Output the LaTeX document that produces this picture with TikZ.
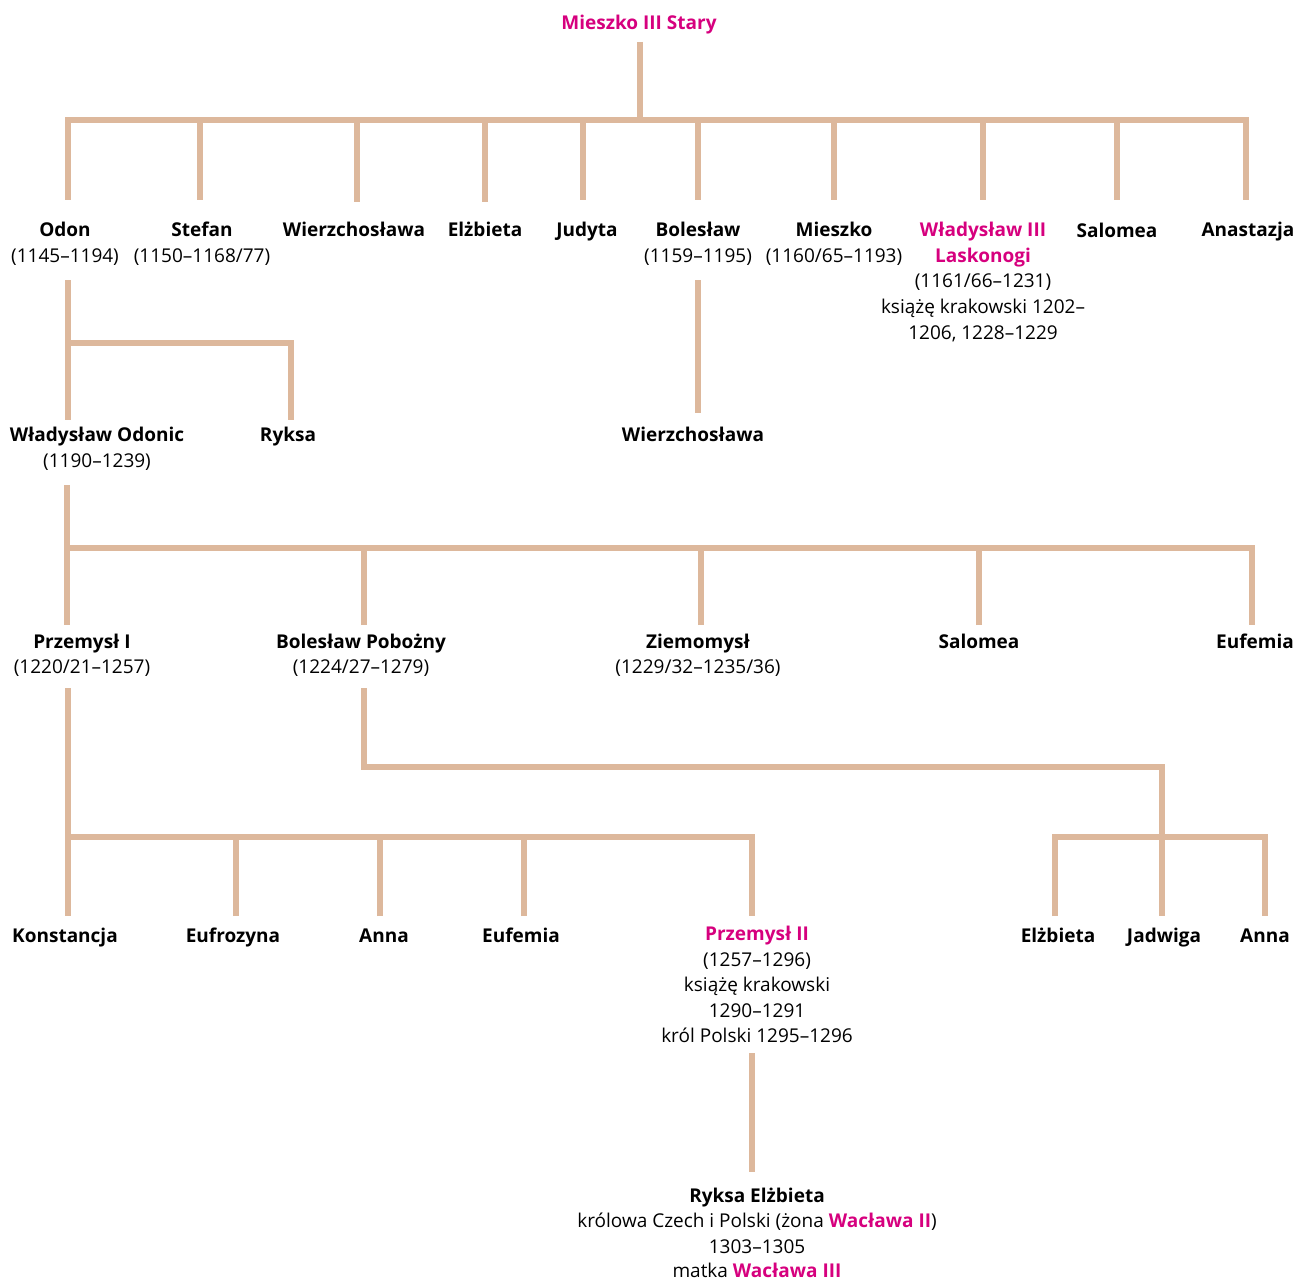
\documentclass[tikz,border=0pt]{standalone}
\usepackage{fontspec}
\setmainfont{Open Sans}
\definecolor{mag}{HTML}{D6007E}
\definecolor{tanline}{HTML}{DDB89C}
\newcommand\nmfont{\fontsize{19}{23}\selectfont\bfseries}
\newcommand\txfont{\fontsize{19}{23}\selectfont}
\newcommand\hi[1]{\textcolor{mag}{\bfseries #1}}
\tikzset{
  link/.style={draw=tanline, line width=6.5pt},
  nm/.style={font=\nmfont, anchor=base, inner sep=0pt},
  hl/.style={nm, text=mag},
  tx/.style={font=\txfont, anchor=base, inner sep=0pt},
}
\begin{document}
\begin{tikzpicture}[x=1pt,y=-1pt]
\useasboundingbox (0,0) rectangle (1297,1281);

% ---------- generation 0
\node[hl] (m3) at (639,29.5) {Mieszko III Stary};
\coordinate (m3-out) at (640,42);
\coordinate (m3-bar) at (640,120);

% ---------- generation 1
\node[nm] (odon) at (65,236.5) {Odon};
\node[tx] (odon-d) at (65,262.5) {(1145–1194)};
\node[nm] (stefan) at (202,236.5) {Stefan};
\node[tx] (stefan-d) at (202,262.5) {(1150–1168/77)};
\node[nm] (wierz1) at (354,236.5) {Wierzchosława};
\node[nm] (elz1) at (485,236.5) {Elżbieta};
\node[nm] (judyta) at (587,236.5) {Judyta};
\node[nm] (bol1) at (698,236.5) {Bolesław};
\node[tx] (bol1-d) at (698,262.5) {(1159–1195)};
\node[nm] (mieszko) at (834,236.5) {Mieszko};
\node[tx] (mieszko-d) at (834,262.5) {(1160/65–1193)};
\node[hl] (wl3) at (983,236.5) {Władysław III};
\node[hl] (wl3-b) at (983,262.5) {Laskonogi};
\node[tx] (wl3-d) at (983,287.5) {(1161/66–1231)};
\node[tx] (wl3-e) at (983,313.5) {książę krakowski 1202–};
\node[tx] (wl3-f) at (983,339.5) {1206, 1228–1229};
\node[nm] (salomea1) at (1117,237.5) {Salomea};
\node[nm] (anast) at (1248,236.5) {Anastazja};

\coordinate (odon-in) at (68,200);
\coordinate (stefan-in) at (200,200);
\coordinate (wierz1-in) at (357,202);
\coordinate (elz1-in) at (485,202);
\coordinate (judyta-in) at (583,200);
\coordinate (bol1-in) at (698,200);
\coordinate (mieszko-in) at (834,200);
\coordinate (wl3-in) at (983,200);
\coordinate (salomea1-in) at (1117,200);
\coordinate (anast-in) at (1246,200);

\draw[link] (m3-out) -- (m3-bar);
\draw[link] (odon-in) |- (m3-bar) -| (anast-in);
\foreach \c in {stefan,wierz1,elz1,judyta,bol1,mieszko,wl3,salomea1}
  \draw[link] (\c-in) -- (\c-in |- m3-bar);

% ---------- generation 2
\coordinate (odon-out) at (68,280);
\coordinate (odon-bar) at (68,343);
\coordinate (odonic-in) at (68,420);
\coordinate (ryksa-in) at (291,420);
\node[nm] (odonic) at (97,441.5) {Władysław Odonic};
\node[tx] (odonic-d) at (97,467.5) {(1190–1239)};
\node[nm] (ryksa) at (288,441.5) {Ryksa};
\draw[link] (odon-out) -- (odonic-in);
\draw[link] (odon-bar) -| (ryksa-in);

\coordinate (bol1-out) at (698,280);
\coordinate (wierz2-in) at (698,413);
\node[nm] (wierz2) at (693,441.5) {Wierzchosława};
\draw[link] (bol1-out) -- (wierz2-in);

% ---------- generation 3
\coordinate (odonic-out) at (67,485);
\coordinate (odonic-bar) at (67,548);
\coordinate (prz1-in) at (67,625);
\coordinate (bolpob-in) at (364,625);
\coordinate (ziem-in) at (701,625);
\coordinate (salomea2-in) at (979,625);
\coordinate (eufem1-in) at (1252,625);
\node[nm] (prz1) at (82,648.5) {Przemysł I};
\node[tx] (prz1-d) at (82,673.5) {(1220/21–1257)};
\node[nm] (bolpob) at (361,648.5) {Bolesław Pobożny};
\node[tx] (bolpob-d) at (361,673.5) {(1224/27–1279)};
\node[nm] (ziem) at (698,648.5) {Ziemomysł};
\node[tx] (ziem-d) at (698,673.5) {(1229/32–1235/36)};
\node[nm] (salomea2) at (979,648.5) {Salomea};
\node[nm] (eufem1) at (1255,648.5) {Eufemia};
\draw[link] (odonic-out) -- (prz1-in);
\draw[link] (odonic-bar) -| (eufem1-in);
\foreach \c in {bolpob,ziem,salomea2}
  \draw[link] (\c-in) -- (\c-in |- odonic-bar);

% ---------- generation 4 (children of Przemysł I)
\coordinate (prz1-out) at (68,688);
\coordinate (prz1-bar) at (68,837);
\coordinate (konst-in) at (68,916);
\coordinate (eufroz-in) at (236,916);
\coordinate (anna1-in) at (380,916);
\coordinate (eufem2-in) at (524,916);
\coordinate (prz2-in) at (752,916);
\node[nm] (konst) at (65,942.5) {Konstancja};
\node[nm] (eufroz) at (233,942.5) {Eufrozyna};
\node[nm] (anna1) at (384,942.5) {Anna};
\node[nm] (eufem2) at (521,942.5) {Eufemia};
\node[hl] (prz2) at (757,940.5) {Przemysł II};
\node[tx] (prz2-d) at (757,966.5) {(1257–1296)};
\node[tx] (prz2-e) at (757,991.5) {książę krakowski};
\node[tx] (prz2-f) at (757,1017.5) {1290–1291};
\node[tx] (prz2-g) at (757,1042.5) {król Polski 1295–1296};
\draw[link] (prz1-out) -- (konst-in);
\draw[link] (prz1-bar) -| (prz2-in);
\foreach \c in {eufroz,anna1,eufem2}
  \draw[link] (\c-in) -- (\c-in |- prz1-bar);

% ---------- generation 4 (children of Bolesław Pobożny)
\coordinate (bolpob-out) at (364,688);
\coordinate (bolpob-turn) at (1162,767);
\coordinate (bolpob-bar) at (1162,837);
\coordinate (elz2-in) at (1055,916);
\coordinate (jadw-in) at (1162,916);
\coordinate (anna2-in) at (1265,916);
\node[nm] (elz2) at (1058,942.5) {Elżbieta};
\node[nm] (jadw) at (1164,942.5) {Jadwiga};
\node[nm] (anna2) at (1265,942.5) {Anna};
\draw[link] (bolpob-out) |- (bolpob-turn) -- (jadw-in);
\draw[link] (elz2-in) |- (bolpob-bar) -| (anna2-in);

% ---------- generation 5
\coordinate (prz2-out) at (752,1053);
\coordinate (ryksael-in) at (752,1172);
\node[nm] (ryksael) at (757,1202.5) {Ryksa Elżbieta};
\node[tx] (ryksael-d) at (757,1227.5) {królowa Czech i Polski (żona \hi{Wacława II})};
\node[tx] (ryksael-e) at (757,1253.5) {1303–1305};
\node[tx] (ryksael-f) at (757,1277.5) {matka \hi{Wacława III}};
\draw[link] (prz2-out) -- (ryksael-in);
\end{tikzpicture}
\end{document}
